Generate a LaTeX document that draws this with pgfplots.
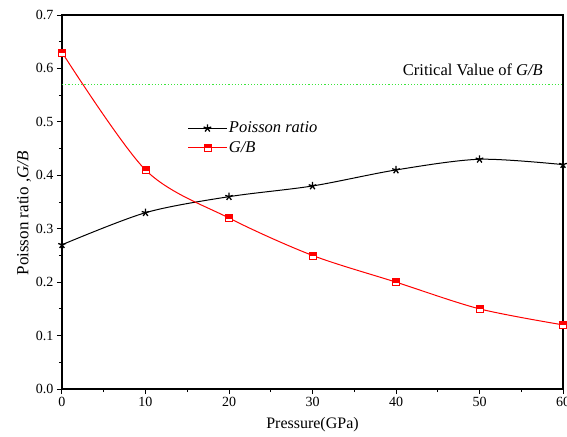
\documentclass[border=0pt]{standalone}
\usepackage{fontspec}
\setmainfont{Liberation Serif}
\usepackage{pgfplots}
\pgfplotsset{compat=1.18}

% half-filled square mark (top half filled)
\pgfdeclareplotmark{halfsq}{%
  \pgfpathrectangle{\pgfpoint{-\pgfplotmarksize}{-\pgfplotmarksize}}{\pgfpoint{2\pgfplotmarksize}{2\pgfplotmarksize}}%
  \pgfsetfillcolor{white}\pgfusepath{fill,stroke}%
  \pgfpathrectangle{\pgfpoint{-\pgfplotmarksize}{0pt}}{\pgfpoint{2\pgfplotmarksize}{\pgfplotmarksize}}%
  \pgfsetfillcolor{red}\pgfusepath{fill,stroke}%
}

\definecolor{critgreen}{RGB}{60,230,60}

\begin{document}
\begin{tikzpicture}
\begin{axis}[
  at={(0pt,0pt)}, anchor=south west,
  scale only axis,
  width=501pt, height=374pt,
  xmin=0, xmax=60, ymin=0, ymax=0.7,
  xtick={0,10,...,60},
  ytick={0,0.1,...,0.7},
  minor x tick num=1, minor y tick num=1,
  tick pos=left, tick align=outside,
  major tick length=5pt, minor tick length=3pt,
  axis line style={line width=1.3pt},
  every tick/.style={line width=1pt, black},
  yticklabel style={/pgf/number format/fixed, /pgf/number format/fixed zerofill, /pgf/number format/precision=1},
  /pgf/number format/assume math mode=true,
  tick label style={font=\fontsize{14}{16}\selectfont},
  xlabel={Pressure(GPa)},
  ylabel={Poisson ratio ,\textit{G/B}},
  label style={font=\fontsize{16}{18}\selectfont},
  xlabel style={yshift=-4pt},
  ylabel style={font=\fontsize{17}{19}\selectfont, at={(ticklabel cs:0.47)}, yshift=-2pt},
  legend style={draw=none, fill=none, at={(0.245,0.725)}, anchor=north west,
    font=\fontsize{16.5}{20}\selectfont, row sep=3pt},
  legend cell align=left,
  legend image code/.code={%
    \draw[mark repeat=2, mark phase=2, #1] plot coordinates {(0pt,0pt) (19pt,0pt) (38pt,0pt)};},
]
\addplot[black, line width=1pt, smooth, tension=0.5, mark=star, mark size=4pt,
  mark options={line width=1.3pt}]
  coordinates {(0,0.27) (10,0.33) (20,0.36) (30,0.38) (40,0.41) (50,0.43) (60,0.42)};
\addlegendentry{\textit{Poisson ratio}}
\addplot[red, line width=1pt, smooth, tension=0.5, mark=halfsq, mark size=3.5pt,
  mark options={line width=0.8pt}]
  coordinates {(0,0.63) (10,0.41) (20,0.32) (30,0.25) (40,0.20) (50,0.15) (60,0.12)};
\addlegendentry{\textit{G/B}}
\addplot[critgreen, line width=1.2pt, dotted, forget plot]
  coordinates {(0,0.57) (60,0.57)};
\node[font=\fontsize{16.5}{18}\selectfont, anchor=center] at (axis cs:49.2,0.598) {Critical Value of \textit{G/B}};
\end{axis}
\pgfresetboundingbox
\path[use as bounding box] (-62pt,-47pt) rectangle (505pt,389pt);
\end{tikzpicture}
\end{document}
